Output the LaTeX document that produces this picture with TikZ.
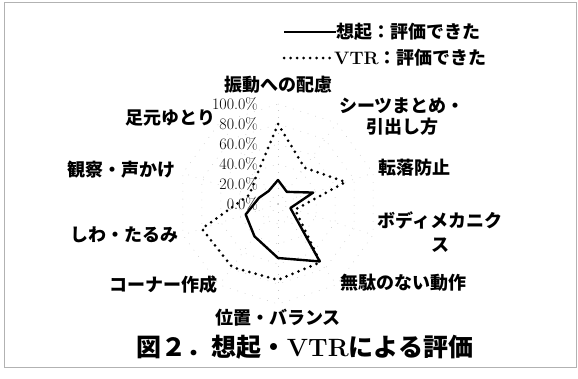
\documentclass[tikz,border=0pt]{standalone}
\usepackage{fontspec}
\newfontfamily\jpfont{Noto Sans CJK JP}
\usepackage{tikz}

\begin{document}
\begin{tikzpicture}[x=1pt,y=-1pt,
  lbl/.style={font=\jpfont\bfseries\fontsize{18}{21}\selectfont, inner sep=0pt, align=center},
  pct/.style={font=\fontsize{16}{18}\selectfont, anchor=east, inner sep=0pt},
  grid/.style={gray!45, line width=0.5pt, dash pattern=on 0.8pt off 7pt},
  souki/.style={black, line width=2.4pt, line join=round},
  vtr/.style={black, line width=3pt, line cap=round, dash pattern=on 0pt off 6.5pt}]
\useasboundingbox (0,0) rectangle (578,378);
\draw [gray!60, line width=0.6pt] (4,2) rectangle (576,367);

% legend
\coordinate (l1a) at (284,32);
\coordinate (l2a) at (284,58);
\node [lbl, anchor=west] (leg1) at (336,32) {想起：評価できた};
\node [lbl, anchor=west] (leg2) at (334,58) {{\rmfamily\bfseries VTR}：評価できた};
\draw [souki] (l1a) -- (leg1);
\draw [vtr] (l2a) -- (leg2);

% grid of the chart
\begin{scope}[shift={(278,204)}, y=1pt]
  \foreach \r in {20,40,...,100}
    \draw [grid] (90:\r) \foreach \k in {1,...,9}{ -- (90-36*\k:\r)} -- cycle;
  \foreach \k in {0,...,9}
    \draw [grid] (0,0) -- (90-36*\k:100);
\end{scope}

% axis values
\foreach \v [count=\i from 0] in {0.0,20.0,40.0,60.0,80.0,100.0}
  \node [pct] (ax\i) at (258,{204-20*\i}) {\v\%};

% category labels
\node [lbl] (shindou)  at (278,85)  {振動への配慮};
\node [lbl] (sheets)   at (402,117) {シーツまとめ・\\引出し方};
\node [lbl] (tenraku)  at (414,168) {転落防止};
\node [lbl] (body)     at (440,232) {ボディメカニク\\[3pt]ス};
\node [lbl] (muda)     at (403,283) {無駄のない動作};
\node [lbl] (ichi)     at (278,318) {位置・バランス};
\node [lbl] (corner)   at (163,285) {コーナー作成};
\node [lbl] (shiwa)    at (124,235) {しわ・たるみ};
\node [lbl] (kansatsu) at (121,170) {観察・声かけ};
\node [lbl] (ashimoto) at (170,118) {足元ゆとり};

% data
\begin{scope}[shift={(278,204)}, y=1pt]
  \draw [vtr] (90:80) -- (54:45) -- (18:71) -- (-18:18) -- (-54:72) -- (-90:76)
    -- (-126:78) -- (-162:80) -- (162:30) -- (126:36) -- cycle;
  \draw [souki] (90:24) -- (54:15) -- (18:37) -- (-18:13) -- (-54:71) -- (-90:54)
    -- (-126:40) -- (-162:34) -- (162:20) -- (126:16) -- cycle;
\end{scope}

% caption
\node [font=\jpfont\bfseries\fontsize{25}{28}\selectfont, inner sep=0pt] (caption) at (305,347)
  {図２．想起・{\rmfamily\bfseries VTR}による評価};
\end{tikzpicture}
\end{document}
